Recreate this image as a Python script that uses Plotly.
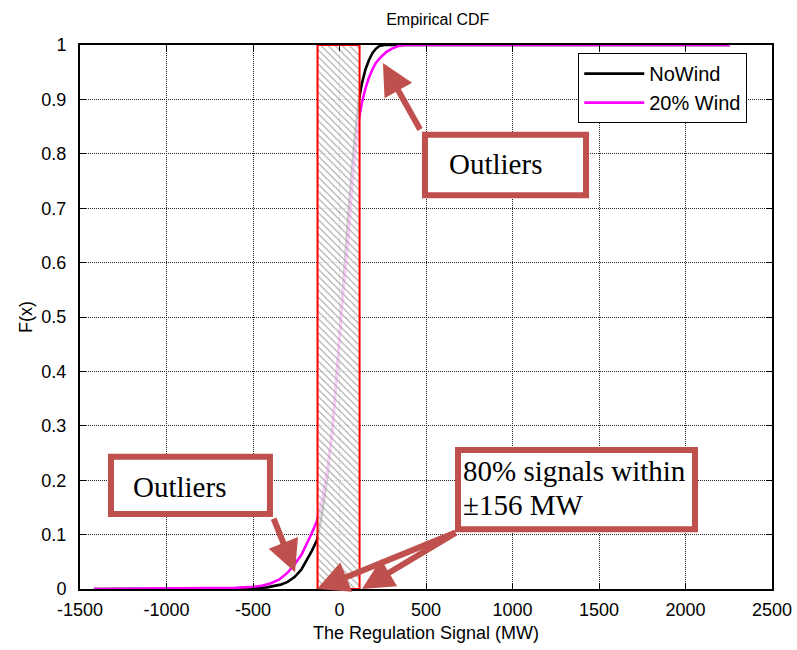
import plotly.graph_objects as go

# Empirical CDF samples of the regulation signal (MW)
nowind_x = [-1420, -700, -500, -420, -380, -340, -300, -260, -220, -190, -160, -130,
            -100, -70, -40, -10, 20, 50, 80, 110, 130, 150, 170, 190, 210, 230, 260,
            300, 2257]
nowind_f = [0, 0, 0.001, 0.003, 0.005, 0.008, 0.013, 0.022, 0.036, 0.052, 0.07, 0.09,
            0.14, 0.21, 0.3, 0.42, 0.56, 0.68, 0.8, 0.895, 0.93, 0.955, 0.972, 0.985,
            0.993, 0.998, 1.0, 1.0, 1.0]

wind_x = [-1420, -800, -600, -500, -450, -400, -350, -300, -260, -220, -190, -160,
          -130, -100, -70, -40, -10, 20, 50, 80, 110, 130, 150, 170, 190, 210, 240,
          270, 300, 340, 380, 2257]
wind_f = [0, 0.001, 0.002, 0.004, 0.006, 0.01, 0.017, 0.03, 0.045, 0.063, 0.082, 0.103,
          0.125, 0.165, 0.22, 0.29, 0.42, 0.54, 0.64, 0.77, 0.86, 0.895, 0.92, 0.94,
          0.955, 0.967, 0.978, 0.987, 0.993, 0.998, 1.0, 1.0]

# highlighted band around zero
band_lo, band_hi = -127, 116

x_ticks = [-1500, -1000, -500, 0, 500, 1000, 1500, 2000, 2500]
y_ticks = [0, 0.1, 0.2, 0.3, 0.4, 0.5, 0.6, 0.7, 0.8, 0.9, 1]
y_labels = ["0", "0.1", "0.2", "0.3", "0.4", "0.5", "0.6", "0.7", "0.8", "0.9", "1"]

NOTE = "#C0504D"
SANS = "Liberation Sans, Arial, sans-serif"
SERIF = "Liberation Serif, Times New Roman, serif"

fig = go.Figure()
fig.add_trace(go.Scatter(x=nowind_x, y=nowind_f, mode="lines", name="NoWind",
                         line=dict(color="black", width=2.6)))
fig.add_trace(go.Scatter(x=wind_x, y=wind_f, mode="lines", name="20% Wind",
                         line=dict(color="#FF00FF", width=2.6)))
fig.add_trace(go.Scatter(
    x=[band_lo, band_hi, band_hi, band_lo, band_lo], y=[0, 0, 1, 1, 0],
    mode="lines", fill="toself", showlegend=False, hoverinfo="skip",
    line=dict(color="red", width=2),
    fillcolor="rgba(255,255,255,0.8)",
    fillpattern=dict(shape="\\", fgcolor="#9a9a9a", bgcolor="rgba(255,255,255,0.8)",
                     size=5, solidity=0.2, fillmode="replace"),
))

grid = dict(showgrid=True, gridcolor="#222", gridwidth=1, griddash="1px,1px",
            zeroline=False, showline=True, linecolor="black", linewidth=2,
            mirror="ticks", ticks="inside", ticklen=6, tickcolor="black",
            automargin=False,
            tickfont=dict(family=SANS, size=18, color="black"))

fig.update_xaxes(range=[-1500, 2500], tickvals=x_ticks, ticktext=[str(v) for v in x_ticks],
                 ticklabelstandoff=3,
                 title=dict(text="The Regulation Signal (MW)", standoff=8,
                            font=dict(family=SANS, size=18, color="black")),
                 **grid)
fig.update_yaxes(range=[0, 1], tickvals=y_ticks, ticktext=y_labels,
                 ticklabelstandoff=8,
                 title=dict(text="F(x)", standoff=4,
                            font=dict(family=SANS, size=18, color="black")),
                 **grid)

# callout boxes
boxes = [(494, 1425, 0.724, 0.835), (-1321, -402, 0.138, 0.243), (685, 2055, 0.110, 0.2555)]
for x0, x1, y0, y1 in boxes:
    fig.add_shape(type="rect", x0=x0, x1=x1, y0=y0, y1=y1, xref="x", yref="y",
                  line=dict(color=NOTE, width=6), fillcolor="white", layer="above")

texts = [("Outliers", 899, 0.781, "center"), ("Outliers", -922, 0.1875, "center"),
         ("80% signals within", 702, 0.217, "left"), ("±156 MW", 702, 0.154, "left")]
for t, x, y, anc in texts:
    fig.add_annotation(text=t, x=x, y=y, xref="x", yref="y", showarrow=False,
                       xanchor=anc, yanchor="middle",
                       font=dict(family=SERIF, size=29, color="black"))

# arrows: tip (data) and tail offset (pixels)
arrows = [(251, 0.967, 38, 68), (-257, 0.031, -22, -55),
          (-130, 0.0, 140, -57), (130, 0.0, 95, -57)]
for x, y, ax, ay in arrows:
    fig.add_annotation(text="", x=x, y=y, xref="x", yref="y", ax=ax, ay=ay,
                       showarrow=True, arrowhead=2, arrowsize=1.05, arrowwidth=6,
                       arrowcolor=NOTE)

fig.update_layout(
    width=797, height=650,
    margin=dict(l=80, r=25, t=45, b=61),
    paper_bgcolor="white", plot_bgcolor="white",
    title=dict(text="Empirical CDF", x=0.517, xref="paper", xanchor="center",
               y=1 - 19 / 650, yref="container", yanchor="middle",
               font=dict(family=SANS, size=16, color="black")),
    legend=dict(x=0.72, y=0.985, xanchor="left", yanchor="top",
                bgcolor="white", bordercolor="black", borderwidth=1,
                font=dict(family=SANS, size=20, color="black"), itemwidth=60),
    showlegend=True,
)

fig.write_html("out.html")
